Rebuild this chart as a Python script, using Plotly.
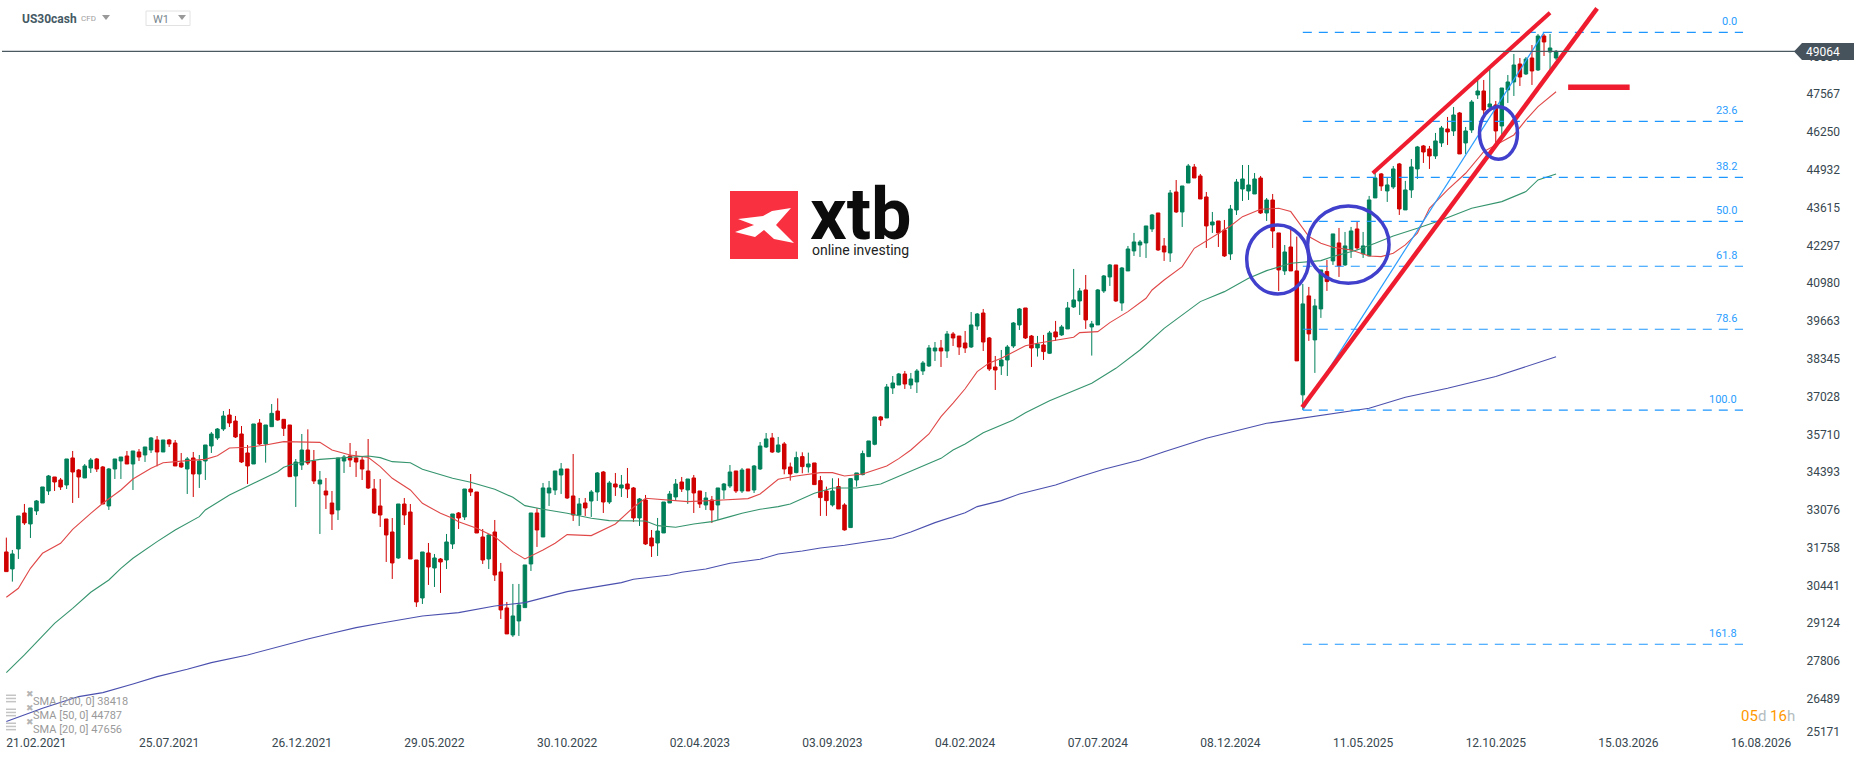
import pandas as pd
import plotly.graph_objects as go

# weekly candles of US30cash
open_ = [31609, 31016, 31713, 32968, 32585, 33038, 33317, 33735, 34223, 34119,
         33944, 34886, 34467, 34188, 34537, 34851, 34572, 33212, 34502, 34781,
         34955, 34676, 35095, 34990, 35164, 35513, 35095, 35513, 35408, 34711,
         34502, 34886, 34328, 34781, 35304, 35583, 35896, 36384, 36175, 35722,
         35060, 34676, 36106, 35374, 35977, 36523, 36233, 36035, 34257, 34641,
         35164, 34780, 33979, 33734, 33316, 33072, 34780, 34955, 34885, 34815,
         34432, 33804, 33212, 32758, 32305, 31399, 33281, 33002, 31329, 30004,
         31573, 31050, 31364, 31329, 31887, 32968, 32828, 33804, 33700, 32131,
         31364, 32305, 30911, 29656, 28715, 29203, 29668, 31190, 32968, 32131,
         33665, 33770, 34293, 34502, 33561, 32898, 33317, 33386, 33700, 34397,
         33351, 33979, 33840, 33979, 33840, 32794, 33421, 32096, 31922, 32271,
         33317, 33526, 34049, 33770, 34188, 33735, 33247, 33421, 33247, 33770,
         33909, 34432, 33735, 34502, 33770, 34502, 35269, 35583, 35096, 35375,
         34573, 34375, 34933, 34573, 34712, 34096, 33736, 33248, 33887, 33248,
         32458, 34119, 34305, 34933, 35363, 36316, 36281, 37327, 37431, 37815,
         37431, 37536, 37919, 38094, 38617, 38721, 38617, 39209, 39139, 38895,
         38756, 39488, 39941, 39070, 38059, 38094, 38303, 38791, 39523, 40116,
         39139, 38723, 38827, 38537, 39281, 39176, 39385, 40152, 40361, 40745,
         39455, 39525, 40710, 41198, 41616, 40291, 41407, 42104, 42313, 42383,
         42871, 43429, 42278, 42034, 44161, 43464, 44475, 45032, 44719, 43987,
         43011, 43150, 42836, 42000, 43533, 44265, 44196, 44091, 44649, 43429,
         43882, 42732, 41407, 42243, 41408, 37086, 40537, 39003, 40083, 41385,
         41757, 42384, 41617, 42140, 42872, 42001, 41931, 43953, 44790, 44197,
         44336, 45138, 43535, 44232, 44964, 45766, 45661, 45417, 45870, 46358,
         46289, 46916, 45870, 46323, 47544, 47683, 47125, 47195, 46463, 47718,
         47997, 48624, 48276, 48833, 48415, 49600, 49042, 48833]
high = [32108, 31678, 32864, 33282, 33143, 33421, 33875, 34293, 34223, 34188,
        34851, 35130, 34502, 34676, 34886, 34886, 34607, 34537, 34851, 34920,
        35130, 35130, 35199, 35269, 35618, 35652, 35513, 35548, 35513, 35060,
        34920, 35095, 34990, 35339, 35792, 35931, 36524, 36594, 36350, 36001,
        35339, 36071, 36245, 36036, 36767, 36965, 36233, 36035, 34850, 35722,
        35884, 35164, 34432, 34188, 33734, 34885, 34989, 35408, 35129, 34920,
        35547, 34153, 34153, 32758, 32793, 33281, 33491, 33281, 31329, 31608,
        31922, 31538, 31399, 32236, 32933, 33002, 33804, 34327, 33700, 32410,
        32236, 32724, 31225, 29865, 30493, 30493, 31155, 32968, 33131, 34014,
        34084, 34432, 34711, 34502, 35025, 33491, 33491, 33770, 34397, 34432,
        34084, 34362, 34293, 34537, 33874, 33491, 33596, 32375, 32794, 33351,
        33735, 34153, 34223, 34153, 34293, 33735, 33700, 33561, 33840, 34014,
        34641, 34432, 34537, 34502, 34641, 35443, 35757, 35757, 35619, 35444,
        34724, 35107, 35084, 35072, 34712, 34259, 33887, 34178, 34178, 33306,
        34166, 34364, 35142, 35479, 36316, 36351, 37466, 37745, 37850, 37919,
        37850, 37989, 38268, 38826, 38930, 39000, 39314, 39279, 39139, 39314,
        39976, 39941, 40081, 39105, 38442, 38651, 38826, 39628, 40116, 40116,
        39174, 39141, 39176, 39315, 39664, 39525, 40326, 41477, 40814, 41267,
        39664, 40779, 41267, 41651, 41616, 41546, 42278, 42732, 42488, 42976,
        43394, 43429, 42557, 44231, 44579, 44370, 45137, 45137, 44788, 44161,
        43464, 43150, 43185, 43708, 44614, 45102, 45102, 44823, 44719, 43952,
        44091, 42732, 42313, 42836, 42605, 40955, 40850, 40432, 41443, 41792,
        42698, 42907, 42767, 42942, 43116, 42767, 44023, 44824, 44824, 44650,
        45068, 45173, 44546, 45312, 45766, 45800, 45766, 46219, 46463, 46777,
        47125, 46951, 46428, 47369, 48066, 48066, 48450, 47334, 47787, 48241,
        48973, 48833, 48868, 49286, 49670, 49670, 49670, 49112]
low = [30923, 30574, 31365, 32550, 32097, 32898, 33317, 33596, 33735, 33770,
       33805, 33317, 33491, 34188, 34363, 34397, 33282, 33073, 34153, 34153,
       34676, 33770, 34781, 34746, 35060, 34595, 35095, 35269, 34607, 34537,
       33631, 33526, 33840, 34119, 35060, 35513, 35827, 35966, 35583, 34711,
       33979, 34676, 35339, 34723, 35977, 36186, 35652, 34234, 33177, 34467,
       34641, 33979, 32236, 33107, 32375, 32724, 34362, 34571, 34223, 34118,
       33804, 32933, 32480, 31259, 30667, 31364, 32549, 31364, 29691, 29795,
       30458, 30388, 30179, 31015, 31713, 32410, 32724, 33560, 32270, 31190,
       31015, 30597, 29272, 28750, 28645, 28680, 29668, 30946, 31783, 32131,
       33212, 33596, 33630, 33456, 32689, 32515, 32863, 32829, 33386, 32968,
       33282, 33561, 33526, 33491, 32654, 32515, 31853, 31434, 31469, 32271,
       33317, 33386, 33700, 33282, 32968, 33142, 33073, 32619, 32724, 33456,
       33840, 33665, 33665, 33735, 33665, 34467, 35234, 35060, 35061, 34317,
       34096, 34352, 34352, 34375, 33957, 32865, 32865, 33190, 33109, 32353,
       32458, 33887, 34282, 34921, 35328, 36002, 36281, 37117, 37431, 37292,
       37292, 37152, 37780, 38059, 38268, 38059, 38373, 38791, 38477, 38547,
       38721, 39349, 38617, 37919, 37257, 37780, 37745, 38721, 39349, 39035,
       38059, 38421, 38304, 38514, 38967, 39141, 39385, 40117, 39873, 39385,
       38456, 39525, 40640, 40884, 40326, 40013, 41407, 41930, 41895, 41860,
       42766, 42104, 41756, 41721, 43429, 42941, 44475, 44649, 43917, 42209,
       42732, 42243, 41895, 41790, 43359, 43847, 43882, 44091, 43394, 43150,
       42209, 40710, 41267, 41407, 38271, 36563, 38968, 37852, 39770, 40711,
       41617, 41199, 41582, 41861, 42140, 41861, 41931, 43953, 44197, 43813,
       44267, 43360, 43535, 43953, 44615, 45173, 44964, 45312, 45731, 45800,
       46114, 45487, 45487, 46219, 47404, 46777, 47055, 45870, 46149, 47265,
       47509, 47857, 48241, 47892, 48380, 48903, 48415, 48764]
close = [30923, 31539, 32864, 32620, 33143, 33387, 33875, 34258, 34049, 33875,
         34851, 34397, 34223, 34607, 34816, 34502, 33282, 34502, 34851, 34920,
         34676, 35130, 34920, 35269, 35583, 35095, 35513, 35374, 34607, 34572,
         34851, 34328, 34781, 35339, 35722, 35896, 36350, 36106, 35618, 34746,
         34607, 36071, 35374, 36036, 36442, 36210, 35919, 34234, 34745, 35164,
         34711, 34083, 34118, 33595, 32933, 34885, 34920, 34815, 34745, 34501,
         33839, 32968, 32898, 32201, 31225, 33281, 32898, 31364, 29865, 31608,
         31085, 31399, 31259, 31957, 32933, 32793, 33804, 33700, 32270, 31329,
         32201, 30806, 29586, 28750, 29377, 29760, 31155, 32968, 32375, 33840,
         33840, 34432, 34502, 33491, 32898, 33282, 33142, 33700, 34362, 33351,
         34014, 33874, 33944, 33805, 32794, 33456, 31887, 31818, 32340, 33351,
         33630, 33979, 33805, 34153, 33665, 33282, 33491, 33073, 33840, 33979,
         34397, 33735, 34467, 33735, 34606, 35304, 35548, 35094, 35340, 34503,
         34329, 34898, 34584, 34677, 33957, 33504, 33399, 33736, 33109, 32377,
         34166, 34364, 35038, 35479, 36316, 36211, 37362, 37501, 37815, 37466,
         37640, 37919, 38198, 38721, 38721, 38617, 39209, 39070, 38756, 38721,
         39523, 39906, 38930, 37989, 37954, 38303, 38756, 39593, 40081, 39070,
         38721, 38862, 38595, 39246, 39106, 39455, 40117, 40396, 40710, 39699,
         39559, 40745, 41233, 41616, 40361, 41511, 42174, 42418, 42418, 42976,
         43359, 42139, 42069, 44126, 43464, 44370, 45067, 44649, 43917, 42976,
         43115, 42732, 41930, 43568, 44509, 44614, 44405, 44614, 43429, 43882,
         42801, 41442, 42069, 41407, 38271, 40258, 39212, 40188, 41443, 41036,
         42698, 41582, 42280, 42802, 42210, 42280, 43883, 44650, 44371, 44406,
         44964, 43569, 44232, 45034, 45731, 45556, 45417, 45940, 46393, 46254,
         46846, 45487, 46289, 47299, 47683, 47021, 47230, 46289, 47787, 47997,
         48589, 48171, 48798, 48380, 49600, 49391, 49182, 49064]

# moving averages, read at the week numbers next to them
sma20_week = [0, 2, 4, 6, 9, 11, 14, 16, 19, 21, 24, 26, 30, 33, 35, 37, 40, 43, 46, 49,
              52, 54, 57, 60, 62, 64, 67, 69, 72, 74, 75, 78, 81, 84, 86, 89, 91, 93, 97,
              101, 104, 106, 110, 113, 118, 123, 125, 128, 131, 135, 137, 139, 142, 146,
              148, 150, 153, 155, 157, 159, 161, 163, 165, 167, 169, 171, 174, 177, 178,
              181, 183, 186, 189, 190, 192, 195, 197, 201, 203, 205, 208, 211, 213, 214,
              216, 218, 220, 223, 226, 228, 230, 232, 234, 236, 239, 242, 245, 247, 250,
              252, 254, 257]
sma20 = [30028, 30342, 31039, 31562, 31910, 32398, 32956, 33305, 33769, 34153, 34525, 34722,
         34792, 34838, 34966, 35234, 35257, 35338, 35454, 35431, 35431, 35164, 34990, 34908,
         34583, 34176, 33769, 33305, 32956, 32782, 32665, 32433, 32143, 31620, 31364, 31678,
         31910, 32213, 32178, 32585, 33166, 33479, 33421, 33363, 33410, 33468, 33630, 34141,
         34258, 34374, 34374, 34258, 34327, 34606, 34862, 35164, 35722, 36326, 36800, 37300,
         37896, 38200, 38361, 38593, 38802, 38884, 38978, 39094, 39257, 39292, 39606, 39989,
         40454, 40744, 41093, 41558, 42197, 42720, 42976, 43301, 43557, 43591, 43477, 43186,
         42605, 42372, 42233, 42140, 41931, 41908, 42024, 42315, 42721, 43593, 44232, 44813,
         45568, 45800, 46149, 46672, 47137, 47656]

sma50_week = [0, 3, 8, 11, 14, 17, 19, 21, 25, 28, 32, 33, 37, 41, 45, 46, 48, 52, 56, 60,
              62, 64, 67, 69, 74, 77, 81, 84, 86, 89, 93, 97, 100, 106, 108, 111, 114, 117,
              120, 122, 125, 128, 130, 134, 137, 141, 145, 151, 155, 157, 159, 162,
              167, 169, 173, 180, 184, 188, 192, 198, 202, 206, 209, 213, 218, 220,
              224, 227, 230, 234, 238, 243, 248, 252, 254, 257]
sma50 = [27402, 28017, 29121, 29644, 30202, 30632, 31039, 31387, 31968, 32375, 32840, 33072,
         33595, 34002, 34408, 34560, 34699, 34838, 34908, 34955, 34897, 34757, 34722, 34490,
         34176, 34037, 33793, 33514, 33223, 33096, 32956, 32782, 32701, 32689, 32526, 32468,
         32585, 32666, 32840, 32956, 33096, 33189, 33282, 33653, 33839, 33839, 33979, 34525,
         34873, 35164, 35373, 35768, 36210, 36465, 36884, 37489, 38012, 38651,
         39407, 40338, 40686, 41151, 41418, 41675, 41768, 41908, 42140, 42373, 42628, 42896,
         43186, 43593, 43825, 44174, 44580, 44787]

sma200_week = [0, 6, 12, 16, 21, 25, 30, 34, 40, 45, 50, 54, 58, 62, 69, 75, 81, 86, 93, 102,
               104, 110, 112, 116, 120, 125, 128, 132, 135, 139, 147, 150, 154, 159, 161, 165,
               168, 174, 178, 182, 188, 192, 199, 203, 209, 211, 215, 226, 232, 239, 247, 253, 257]
sma200 = [25693, 26158, 26565, 26704, 27006, 27262, 27518, 27750, 28017, 28308, 28575, 28773,
          28970, 29121, 29377, 29493, 29726, 29842, 30225, 30539, 30656, 30807, 30900, 31016,
          31213, 31353, 31539, 31643, 31748, 31841, 32096, 32305, 32631, 32979, 33189, 33398,
          33630, 33944, 34234, 34490, 34815, 35106, 35571, 35780, 36094, 36152, 36272, 36620,
          37004, 37318, 37724, 38131, 38418]

# fibonacci levels
fib_names = ["0.0", "23.6", "38.2", "50.0", "61.8", "78.6", "100.0", "161.8"]
fib_levels = [49728, 46626, 44673, 43139, 41571, 39375, 36551, 28390]
fib_weeks = [215, 288]
fib_line_weeks = [215, 255]
fib_line_vals = [36563, 49728]

# hand drawn red lines and blue rings
upper_weeks = [226.6, 256]
upper_vals = [44813, 50413]
lower_weeks = [214.9, 263.8]
lower_vals = [36655, 50564]
target_weeks = [259, 269.2]
target_vals = [47811, 47811]
ring_weeks = [(205.7, 216), (215.8, 229.3), (244.3, 250.6)]
ring_vals = [(40606, 43012), (40978, 43674), (45301, 47137)]

last_price = 49064
y_ticks = [48884, 47567, 46250, 44932, 43615, 42297, 40980, 39663, 38345, 37028,
           35710, 34393, 33076, 31758, 30441, 29124, 27806, 26489, 25340]
y_labels = ["48884", "47567", "46250", "44932", "43615", "42297", "40980", "39663", "38345", "37028",
            "35710", "34393", "33076", "31758", "30441", "29124", "27806", "26489", "25171"]
x_labels = ["21.02.2021", "25.07.2021", "26.12.2021", "29.05.2022", "30.10.2022", "02.04.2023",
            "03.09.2023", "04.02.2024", "07.07.2024", "08.12.2024", "11.05.2025", "12.10.2025",
            "15.03.2026", "16.08.2026"]
legend_lines = ["SMA [200, 0] 38418", "SMA [50, 0] 44787", "SMA [20, 0] 47656"]

W, H = 1866, 761
PLOT_W, PLOT_H = 1800, 736
first_week = pd.Timestamp("2021-02-21")


def wk(i):
    return first_week + pd.Timedelta(days=7 * i)


def wks(items):
    return [wk(i) for i in items]


# layout helpers for the page furniture (pixels -> paper)
def px(x):
    return x / PLOT_W


def py(y):
    return 1 - y / PLOT_H


dates = wks(range(len(open_)))
grey_text = "#37474f"

fig = go.Figure()
fig.add_trace(go.Candlestick(
    x=dates, open=open_, high=high, low=low, close=close,
    increasing=dict(line=dict(color="#00805a", width=1), fillcolor="#00805a"),
    decreasing=dict(line=dict(color="#d00000", width=1), fillcolor="#d00000"),
    whiskerwidth=0, hoverinfo="skip"))

fig.add_trace(go.Scatter(x=wks(sma20_week), y=sma20, mode="lines", line=dict(color="#e04848", width=1.1), hoverinfo="skip"))
fig.add_trace(go.Scatter(x=wks(sma50_week), y=sma50, mode="lines", line=dict(color="#35946e", width=1.1), hoverinfo="skip"))
fig.add_trace(go.Scatter(x=wks(sma200_week), y=sma200, mode="lines", line=dict(color="#4b50ae", width=1.1), hoverinfo="skip"))

for lvl in fib_levels:
    fig.add_trace(go.Scatter(x=wks(fib_weeks), y=[lvl, lvl], mode="lines",
                             line=dict(color="#1e96ff", width=1.2, dash="9px,7px"), hoverinfo="skip"))
fig.add_trace(go.Scatter(x=wks(fib_line_weeks), y=fib_line_vals, mode="lines",
                         line=dict(color="#2a9dff", width=1.2), hoverinfo="skip"))

fig.add_shape(type="line", xref="paper", yref="y", x0=px(2), x1=px(1796), y0=last_price, y1=last_price,
              line=dict(color="#4a5860", width=1.3))

for wk_pair, val_pair in zip(ring_weeks, ring_vals):
    fig.add_shape(type="circle", xref="x", yref="y", x0=wk(wk_pair[0]), x1=wk(wk_pair[1]),
                  y0=val_pair[0], y1=val_pair[1], line=dict(color="#4040cc", width=3.5))

for lw, lv, width in [(upper_weeks, upper_vals, 4), (lower_weeks, lower_vals, 4.5), (target_weeks, target_vals, 5.5)]:
    fig.add_trace(go.Scatter(x=wks(lw), y=lv, mode="lines", line=dict(color="#ee1c2e", width=width), hoverinfo="skip"))

for name, lvl in zip(fib_names, fib_levels):
    fig.add_annotation(x=wk(287.3), y=lvl, text=name, showarrow=False, xanchor="right", yanchor="bottom",
                       yshift=2, font=dict(family="Roboto", size=11, color="#2a9dff"))

# price flag on the right
fig.add_shape(type="path", xref="paper", yref="paper", fillcolor="#46535c", line=dict(width=0),
              path=f"M {px(1794)} {py(51.5)} L {px(1802)} {py(43)} L {px(1854)} {py(43)} L {px(1854)} {py(60)} L {px(1802)} {py(60)} Z")
fig.add_annotation(xref="paper", yref="paper", x=px(1804), y=py(52), text=str(last_price), showarrow=False,
                   xanchor="left", yanchor="middle", font=dict(family="Roboto", size=12, color="white"))

# header
fig.add_annotation(xref="paper", yref="paper", x=px(20), y=py(18.5), text="<b>US30cash</b>", showarrow=False,
                   xanchor="left", yanchor="middle", font=dict(family="Roboto", size=12, color="#455a64"))
fig.add_annotation(xref="paper", yref="paper", x=px(79), y=py(19), text="CFD", showarrow=False,
                   xanchor="left", yanchor="middle", font=dict(family="Roboto", size=8, color="#9e9e9e"))
fig.add_annotation(xref="paper", yref="paper", x=px(151), y=py(19.5), text="W1", showarrow=False,
                   xanchor="left", yanchor="middle", font=dict(family="Roboto", size=11, color="#78868e"))
fig.add_shape(type="rect", xref="paper", yref="paper", x0=px(146), x1=px(190), y0=py(11), y1=py(25.5),
              line=dict(color="#e2e2e2", width=1), fillcolor="white")
for cx in (106, 182):
    fig.add_shape(type="path", xref="paper", yref="paper", fillcolor="#999999", line=dict(width=0),
                  path=f"M {px(cx - 4)} {py(15)} L {px(cx + 4)} {py(15)} L {px(cx)} {py(20)} Z")

# logo
fig.add_shape(type="rect", xref="paper", yref="paper", x0=px(730), x1=px(798), y0=py(191), y1=py(259),
              fillcolor="#f93040", line=dict(width=0))
star = [(738, 219), (763, 216), (772, 211), (791, 208), (776, 225), (794, 243), (774, 239), (764, 230),
        (755, 237), (735, 232), (754, 225)]
fig.add_shape(type="path", xref="paper", yref="paper", fillcolor="white", line=dict(width=0),
              path="M " + " L ".join(f"{px(a)} {py(b)}" for a, b in star) + " Z")
fig.add_annotation(xref="paper", yref="paper", x=px(808), y=py(214), text="<b>xtb</b>", showarrow=False,
                   xanchor="left", yanchor="middle", font=dict(family="Roboto", size=72, color="#0c0c0c"))
fig.add_annotation(xref="paper", yref="paper", x=px(810), y=py(250), text="online investing", showarrow=False,
                   xanchor="left", yanchor="middle", font=dict(family="Roboto", size=14, color="#222222"))

# indicator legend
for row, line in enumerate(legend_lines):
    y0 = 701.5 + row * 14
    fig.add_annotation(xref="paper", yref="paper", x=px(31), y=py(y0), text=line, showarrow=False,
                       xanchor="left", yanchor="middle", font=dict(family="Roboto", size=11, color="#9a9a9a"))
    fig.add_annotation(xref="paper", yref="paper", x=px(24), y=py(y0 - 1), text="✖", showarrow=False,
                       font=dict(family="DejaVu Sans", size=9, color="#b5b5b5"))
    for k in range(3):
        fig.add_shape(type="rect", xref="paper", yref="paper", x0=px(6), x1=px(16),
                      y0=py(y0 - 7 + k * 3.2), y1=py(y0 - 5.5 + k * 3.2), fillcolor="#c4c4c4", line=dict(width=0))

fig.add_annotation(xref="paper", yref="paper", x=px(1797), y=py(716), showarrow=False, xanchor="right", yanchor="middle",
                   text='<span style="color:#ff9800">05</span><span style="color:#b4bcc0">d </span>'
                        '<span style="color:#ff9800">16</span><span style="color:#b4bcc0">h</span>',
                   font=dict(family="Roboto", size=15))

fig.update_layout(
    width=W, height=H, autosize=False, showlegend=False, paper_bgcolor="white", plot_bgcolor="white",
    margin=dict(l=0, r=W - PLOT_W, t=0, b=H - PLOT_H), boxgap=0.17,
    font=dict(family="Roboto", size=12, color=grey_text),
    xaxis=dict(type="date", range=[wk(-1.05), wk(297.45)], rangeslider=dict(visible=False), showgrid=False, zeroline=False,
               showline=False, ticks="", tickvals=wks(range(0, 22 * len(x_labels), 22)), ticktext=x_labels,
               ticklabelposition="outside right", ticklabelstandoff=-2,
               tickfont=dict(family="Roboto", size=12, color=grey_text)),
    yaxis=dict(side="right", range=[25191, 50855], showgrid=False, zeroline=False, showline=False, ticks="outside",
               ticklen=3, tickcolor="white", tickvals=y_ticks, ticktext=y_labels,
               tickfont=dict(family="Roboto", size=12, color=grey_text)),
)

fig.write_html("out.html", config=dict(displayModeBar=False), post_script="document.body.style.margin='0';")
